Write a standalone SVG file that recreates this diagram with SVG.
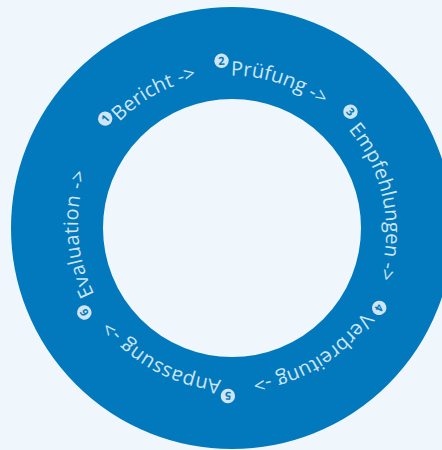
<svg xmlns="http://www.w3.org/2000/svg" xmlns:xlink="http://www.w3.org/1999/xlink" width="442" height="450" viewBox="0 0 442 450">
<style>
.lbl{font-family:"Open Sans","DejaVu Sans",sans-serif;font-size:20px;fill:#cfe5f4}
.badge{fill:#cfe5f4}
.digit{font-family:"Open Sans","DejaVu Sans",sans-serif;font-size:11px;font-weight:700;fill:#0279bd;text-anchor:middle}
</style>
<defs>
<path id="ring" d="M94.3,154.8 A156,156 0 0 1 369.7,301.2 A156,156 0 0 1 94.3,154.8"/>
</defs>
<rect x="0" y="0" width="442" height="450" fill="#eff7fd"/>
<g id="ring-shape">
<circle cx="232" cy="228" r="175" fill="none" stroke="#0279bd" stroke-width="92"/>
</g>
<g id="step1">
<g transform="translate(105.2,118.6) rotate(-49.2)"><circle class="badge" r="7.2"/><text class="digit" y="4">1</text></g>
<text class="lbl"><textPath xlink:href="#ring" startOffset="41.5">Bericht -&gt;</textPath></text>
</g>
<g id="step2">
<g transform="translate(221.5,60.8) rotate(-3.6)"><circle class="badge" r="7.2"/><text class="digit" y="4">2</text></g>
<text class="lbl"><textPath xlink:href="#ring" startOffset="165.4">Prüfung -&gt;</textPath></text>
</g>
<g id="step3">
<g transform="translate(350.5,111.7) rotate(45.4)"><circle class="badge" r="7.2"/><text class="digit" y="4">3</text></g>
<text class="lbl"><textPath xlink:href="#ring" startOffset="298.4">Empfehlungen -&gt;</textPath></text>
</g>
<g id="step4">
<g transform="translate(379.2,307.9) rotate(118.5)"><circle class="badge" r="7.2"/><text class="digit" y="4">4</text></g>
<text class="lbl"><textPath xlink:href="#ring" startOffset="494">Verbreitung -&gt;</textPath></text>
</g>
<g id="step5">
<g transform="translate(227.9,396) rotate(181.4)"><circle class="badge" r="7.2"/><text class="digit" y="4">5</text></g>
<text class="lbl" letter-spacing="0.3"><textPath xlink:href="#ring" startOffset="659">Anpassung -&gt;</textPath></text>
</g>
<g id="step6">
<g transform="translate(84.3,312.5) rotate(240)"><circle class="badge" r="7.2"/><text class="digit" y="4">6</text></g>
<text class="lbl" letter-spacing="0.4"><textPath xlink:href="#ring" startOffset="819">Evaluation -&gt;</textPath></text>
</g>
</svg>
